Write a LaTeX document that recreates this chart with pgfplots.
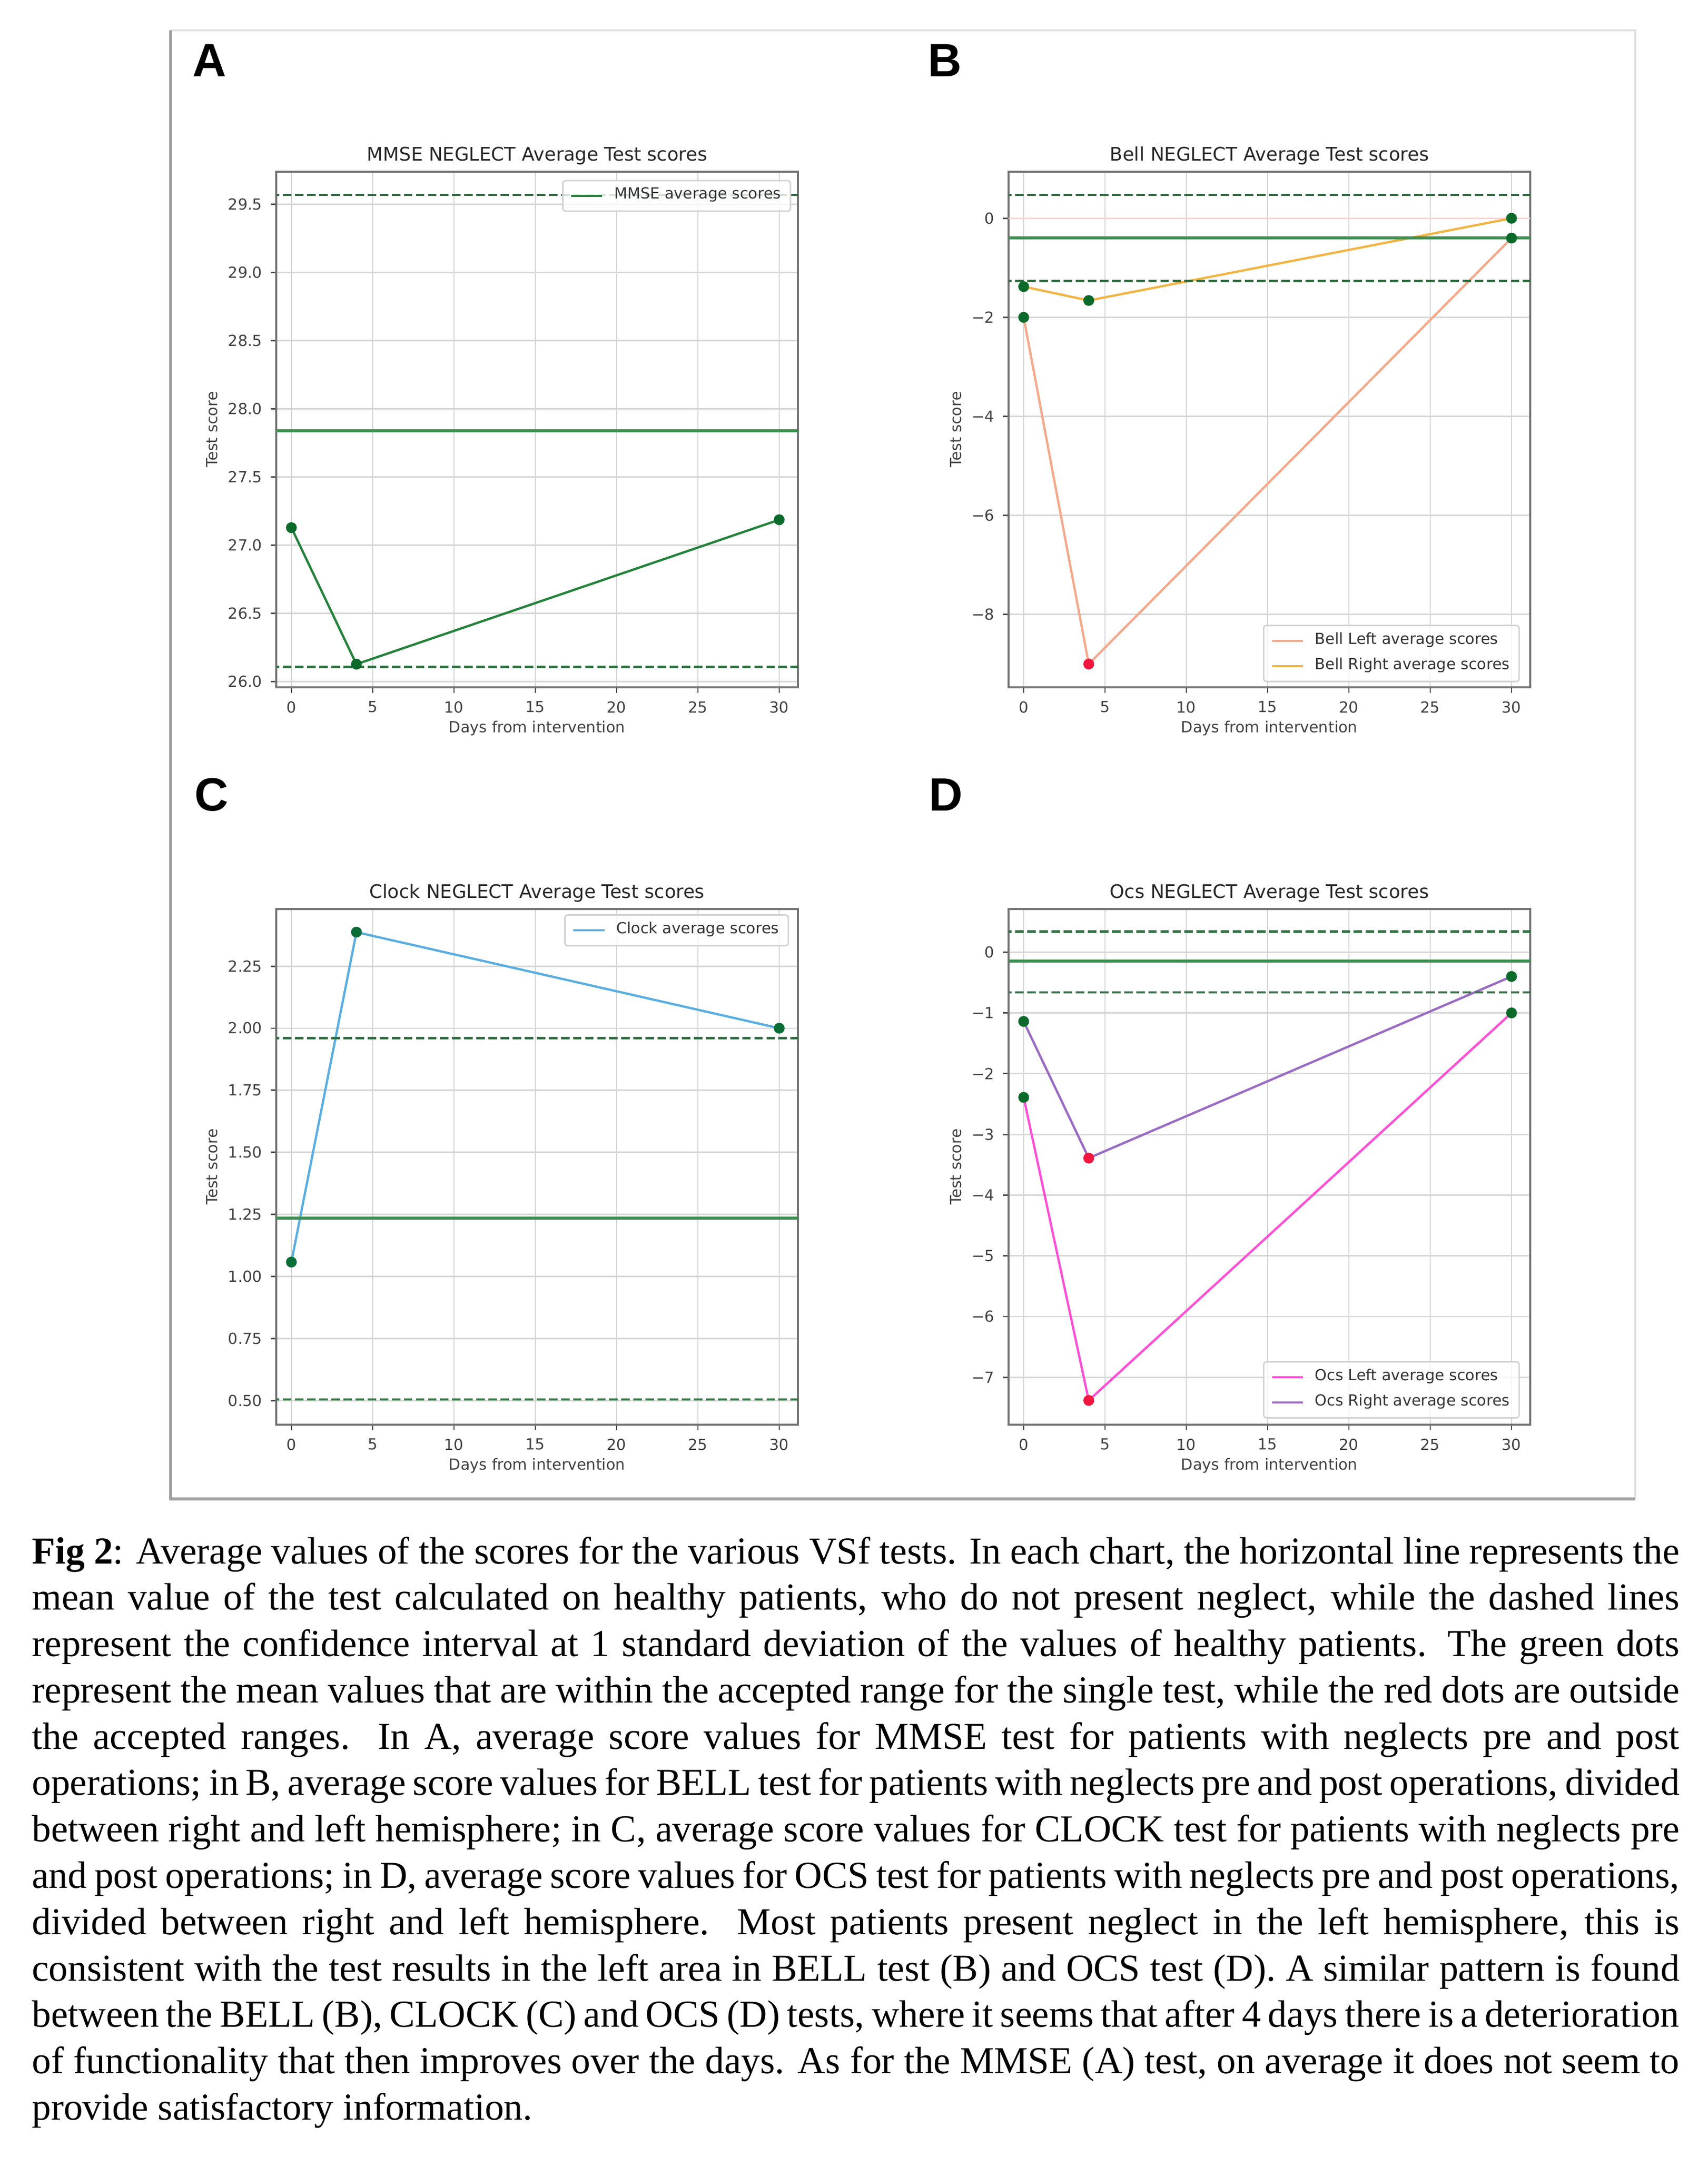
\documentclass[border=0pt]{standalone}
\usepackage{fontspec}
\usepackage{pgfplots}
\pgfplotsset{compat=1.18}
\newfontfamily\mplfont{DejaVu Sans}
\newfontfamily\capfont{Liberation Serif}
\newfontfamily\letfont{Liberation Sans}
\definecolor{mgreen}{HTML}{24823A}
\definecolor{hline}{HTML}{3D9150}
\definecolor{dline}{HTML}{2F6F40}
\definecolor{mkgreen}{HTML}{0B6A2A}
\definecolor{mkred}{HTML}{F2173F}
\definecolor{bleft}{HTML}{F5A98A}
\definecolor{bright}{HTML}{F1B545}
\definecolor{clock}{HTML}{5AAEE0}
\definecolor{oleft}{HTML}{FF4FD6}
\definecolor{oright}{HTML}{9A6BC4}
\newcommand{\tickfont}{\mplfont\fontsize{4.25}{5}\selectfont}
\newcommand{\titlefont}{\mplfont\fontsize{5.2}{6}\selectfont}
\pgfplotsset{
  mpl/.style={
    scale only axis, width=144.62bp, height=142.94bp,
    anchor=north west,
    axis line style={black!55, line width=0.5bp},
    grid=major, major grid style={black!16, line width=0.4bp},
    tick align=outside, major tick length=1.5bp,
    tick style={black!70, line width=0.4bp},
    xtick pos=bottom, ytick pos=left,
    xmin=-0.93, xmax=31.15, xtick={0,5,10,15,20,25,30},
    /pgf/number format/assume math mode=true,
    ticklabel style={font=\tickfont, text=black!75, inner sep=0pt},
    xticklabel shift=2.2bp, yticklabel shift=2.2bp,
    every axis title shift=0pt,
    title style={font=\titlefont, text=black!85, at={(0.5,1)}, anchor=base, inner sep=0pt, yshift=3.0bp},
    xlabel={Days from intervention}, ylabel={Test score},
    xlabel style={font=\tickfont, text=black!75, at={(ticklabel cs:0.5,2.0bp)}, anchor=north, inner sep=0pt},
    ylabel style={font=\tickfont, text=black!75, at={(ticklabel cs:0.5,2.7bp)}, anchor=south, inner sep=0pt},
    legend cell align=left,
    legend image code/.code={\draw[##1] (0bp,0bp) -- (8.6bp,0bp); \path (11.0bp,0bp);},
    legend style={font=\tickfont, text=black!80, draw=black!18, line width=0.4bp,
      rounded corners=0.8bp, fill=white, fill opacity=0.8, text opacity=1,
      inner xsep=2.0bp, inner ysep=1.3bp, row sep=1.1bp,
      nodes={inner sep=0.6bp}},
  },
  mline/.style={line width=0.634bp, mark=none},
  hmean/.style={line width=0.85bp, color=hline, forget plot},
  hdash/.style={line width=0.634bp, color=dline, dash pattern=on 2.35bp off 1.0bp, forget plot},
  mkg/.style={only marks, mark=*, mark size=1.3bp, color=mkgreen, forget plot},
  mkr/.style={only marks, mark=*, mark size=1.3bp, color=mkred, forget plot},
}
\newcommand{\capline}[1]{\node[anchor=base west, inner sep=0pt, font=\capfont\fontsize{10.6}{12.85}\selectfont] at (8.68bp,#1)}
\begin{document}
\begin{tikzpicture}
\path[use as bounding box] (0,0) rectangle (473.48bp,-597.94bp);
% outer frame
\draw[black!12, line width=0.5bp] (47.32bp,-8.4bp) -- (453.32bp,-8.4bp) -- (453.32bp,-415.52bp);
\draw[black!38, line width=0.8bp] (47.32bp,-8.4bp) -- (47.32bp,-415.52bp) -- (453.32bp,-415.52bp);
% panel letters
\node[anchor=base west, inner sep=0pt, font=\letfont\bfseries\fontsize{13}{15}\selectfont] at (53.2bp,-21.2bp) {A};
\node[anchor=base west, inner sep=0pt, font=\letfont\bfseries\fontsize{13}{15}\selectfont] at (257.0bp,-21.2bp) {B};
\node[anchor=base west, inner sep=0pt, font=\letfont\bfseries\fontsize{13}{15}\selectfont] at (53.7bp,-224.8bp) {C};
\node[anchor=base west, inner sep=0pt, font=\letfont\bfseries\fontsize{13}{15}\selectfont] at (257.3bp,-224.8bp) {D};

% ---------- A: MMSE ----------
\begin{axis}[mpl, at={(76.58bp,-47.6bp)},
  ymin=25.956, ymax=29.74,
  ytick={26,26.5,27,27.5,28,28.5,29,29.5},
  yticklabels={26.0,26.5,27.0,27.5,28.0,28.5,29.0,29.5},
  title={MMSE NEGLECT Average Test scores},
  legend style={at={(0.987,0.984)}, anchor=north east}]
\addplot[mline, color=mgreen] coordinates {(0,27.128) (4,26.126) (30,27.186)};
\addlegendentry{MMSE average scores}
\addplot[hmean] coordinates {(-2,27.84) (33,27.84)};
\addplot[hdash] coordinates {(-2,29.57) (33,29.57)};
\addplot[hdash] coordinates {(-2,26.106) (33,26.106)};
\addplot[mkg] coordinates {(0,27.128) (4,26.126) (30,27.186)};
\end{axis}

% ---------- B: Bell ----------
\begin{axis}[mpl, at={(279.58bp,-47.6bp)},
  ymin=-9.47, ymax=0.94,
  ytick={-8,-6,-4,-2,0},
  yticklabels={−8,−6,−4,−2,0},
  title={Bell NEGLECT Average Test scores},
  legend style={at={(0.98,0.01)}, anchor=south east}]
\addplot[red!18, line width=0.4bp, forget plot] coordinates {(-2,0) (33,0)};
\addplot[mline, color=bleft] coordinates {(0,-2.0) (4,-9.0) (30,-0.40)};
\addlegendentry{Bell Left average scores}
\addplot[mline, color=bright] coordinates {(0,-1.38) (4,-1.66) (30,0.0)};
\addlegendentry{Bell Right average scores}
\addplot[hmean] coordinates {(-2,-0.40) (33,-0.40)};
\addplot[hdash] coordinates {(-2,0.47) (33,0.47)};
\addplot[hdash] coordinates {(-2,-1.27) (33,-1.27)};
\addplot[mkg] coordinates {(0,-2.0) (30,-0.40) (0,-1.38) (4,-1.66) (30,0.0)};
\addplot[mkr] coordinates {(4,-9.0)};
\end{axis}

% ---------- C: Clock ----------
\begin{axis}[mpl, at={(76.58bp,-252.0bp)},
  ymin=0.403, ymax=2.48,
  ytick={0.5,0.75,1,1.25,1.5,1.75,2,2.25},
  yticklabels={0.50,0.75,1.00,1.25,1.50,1.75,2.00,2.25},
  title={Clock NEGLECT Average Test scores},
  legend style={at={(0.983,0.99)}, anchor=north east}]
\addplot[mline, color=clock] coordinates {(0,1.058) (4,2.387) (30,2.0)};
\addlegendentry{Clock average scores}
\addplot[hmean] coordinates {(-2,1.235) (33,1.235)};
\addplot[hdash] coordinates {(-2,1.96) (33,1.96)};
\addplot[hdash] coordinates {(-2,0.505) (33,0.505)};
\addplot[mkg, color=mkgreen!85!teal] coordinates {(0,1.058) (4,2.387) (30,2.0)};
\end{axis}

% ---------- D: Ocs ----------
\begin{axis}[mpl, at={(279.58bp,-252.0bp)},
  ymin=-7.78, ymax=0.71,
  ytick={-7,-6,-5,-4,-3,-2,-1,0},
  yticklabels={−7,−6,−5,−4,−3,−2,−1,0},
  title={Ocs NEGLECT Average Test scores},
  legend style={at={(0.98,0.012)}, anchor=south east}]
\addplot[mline, color=oleft] coordinates {(0,-2.39) (4,-7.38) (30,-1.0)};
\addlegendentry{Ocs Left average scores}
\addplot[mline, color=oright] coordinates {(0,-1.14) (4,-3.39) (30,-0.40)};
\addlegendentry{Ocs Right average scores}
\addplot[hmean] coordinates {(-2,-0.15) (33,-0.15)};
\addplot[hdash] coordinates {(-2,0.34) (33,0.34)};
\addplot[hdash] coordinates {(-2,-0.66) (33,-0.66)};
\addplot[mkg] coordinates {(0,-2.39) (30,-1.0) (0,-1.14) (30,-0.40)};
\addplot[mkr] coordinates {(4,-7.38) (4,-3.39)};
\end{axis}

% ---------- caption ----------
\capline{-433.44bp}{\hbox to 456.68bp{\textbf{Fig 2}: Average values of the scores for the various VSf tests. In each chart, the horizontal line represents the}};
\capline{-446.29bp}{\hbox to 456.68bp{mean value of the test calculated on healthy patients, who do not present neglect, while the dashed lines}};
\capline{-459.14bp}{\hbox to 456.68bp{represent the confidence interval at 1 standard deviation of the values of healthy patients. The green dots}};
\capline{-471.99bp}{\hbox to 456.68bp{represent the mean values that are within the accepted range for the single test, while the red dots are outside}};
\capline{-484.84bp}{\hbox to 456.68bp{the accepted ranges. In A, average score values for MMSE test for patients with neglects pre and post}};
\capline{-497.69bp}{\hbox to 456.68bp{operations; in B, average score values for BELL test for patients with neglects pre and post operations, divided}};
\capline{-510.54bp}{\hbox to 456.68bp{between right and left hemisphere; in C, average score values for CLOCK test for patients with neglects pre}};
\capline{-523.39bp}{\hbox to 456.68bp{and post operations; in D, average score values for OCS test for patients with neglects pre and post operations,}};
\capline{-536.24bp}{\hbox to 456.68bp{divided between right and left hemisphere. Most patients present neglect in the left hemisphere, this is}};
\capline{-549.09bp}{\hbox to 456.68bp{consistent with the test results in the left area in BELL test (B) and OCS test (D). A similar pattern is found}};
\capline{-561.94bp}{\hbox to 456.68bp{between the BELL (B), CLOCK (C) and OCS (D) tests, where it seems that after 4 days there is a deterioration}};
\capline{-574.79bp}{\hbox to 456.68bp{of functionality that then improves over the days. As for the MMSE (A) test, on average it does not seem to}};
\capline{-587.64bp}{provide satisfactory information.};
\end{tikzpicture}
\end{document}
